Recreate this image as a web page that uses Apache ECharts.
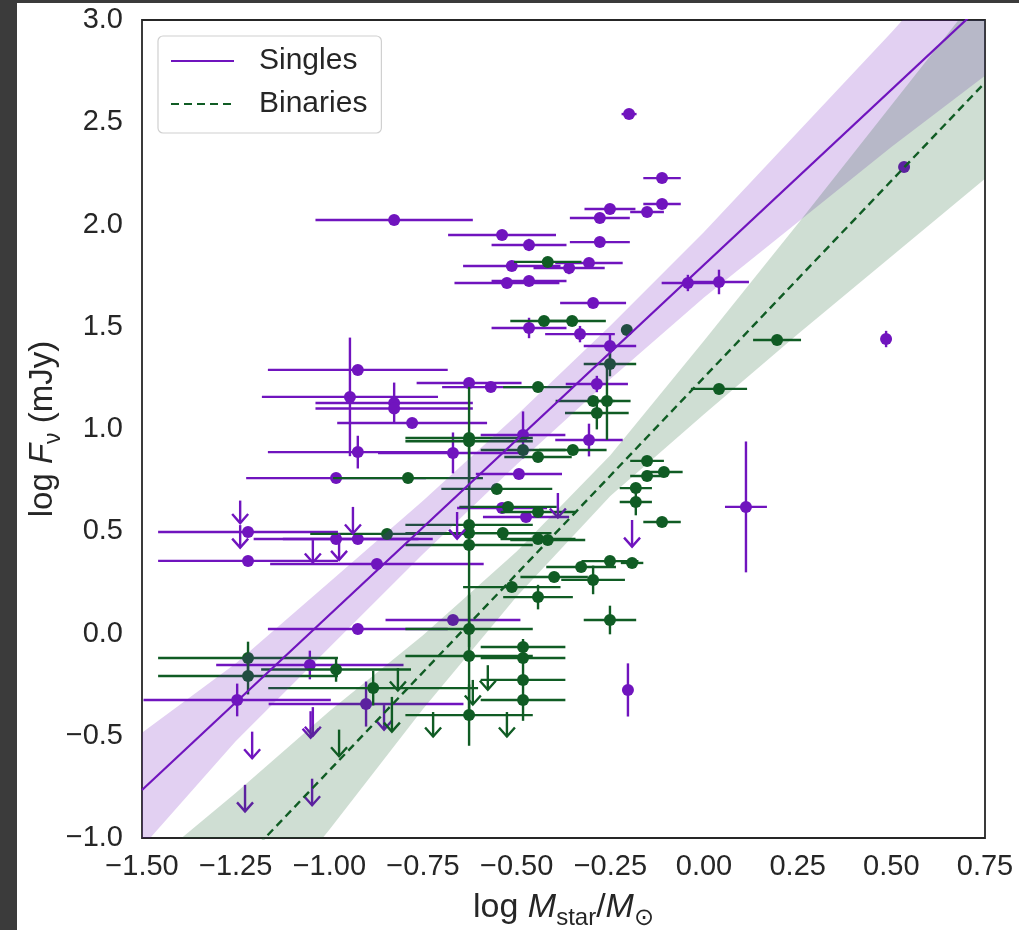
<!DOCTYPE html>
<html><head><meta charset="utf-8">
<script src="https://cdn.jsdelivr.net/npm/echarts@6/dist/echarts.min.js"></script>
<style>
html,body{margin:0;padding:0;background:#3b3b3b;width:1019px;height:930px;overflow:hidden}
#c{position:absolute;left:17px;top:3px;width:1002px;height:927px;background:#fff}
</style></head><body><div id="c"></div>
<script>
// ---- data ----
const xTickMin = -1.5, xTickMax = 0.75, xTickStep = 0.25;
const yTickMin = -1.0, yTickMax = 3.0, yTickStep = 0.5;
const seriesNames = ['Singles', 'Binaries'];

// [x, y, xerr, yerr]
const singlesPts = [
[-0.200,2.540,0.020,0],[-0.112,2.227,0.050,0],[-0.112,2.100,0.050,0],[-0.251,2.076,0.068,0],
[-0.152,2.061,0.045,0],[-0.278,2.032,0.080,0],[-0.827,2.022,0.210,0],[-0.539,1.949,0.144,0],
[-0.467,1.900,0.100,0.03],[-0.278,1.914,0.080,0],[-0.513,1.797,0.130,0],[-0.360,1.787,0.095,0.03],
[-0.307,1.812,0.090,0],[-0.526,1.714,0.140,0],[-0.467,1.724,0.100,0],[-0.296,1.616,0.088,0],
[-0.043,1.714,0.070,0.04],[0.040,1.719,0.080,0.06],[-0.467,1.494,0.100,0.05],[-0.331,1.464,0.093,0.04],
[-0.251,1.406,0.070,0.06],[-0.924,1.289,0.240,0],[-0.945,1.157,0.235,0.29],[-0.827,1.127,0.210,0.10],
[-0.827,1.100,0.210,0],[-0.779,1.029,0.200,0],[-0.627,1.225,0.140,0],[-0.569,1.205,0.130,0],
[-0.286,1.220,0.083,0.04],[-0.483,0.971,0.113,0.115],[-0.670,0.883,0.200,0.10],[-0.924,0.887,0.240,0.08],
[-0.307,0.946,0.090,0.08],[-0.982,0.760,0.240,0],[-0.494,0.780,0.115,0],[-0.539,0.614,0.120,0],
[-0.475,0.570,0.115,0],[-1.217,0.496,0.240,0],[-1.217,0.355,0.240,0],[-0.982,0.462,0.220,0],
[-0.924,0.462,0.200,0],[-0.873,0.340,0.285,0],[0.112,0.619,0.056,0.32],[-0.670,0.066,0.180,0],
[-0.924,0.022,0.240,0],[-1.052,-0.154,0.250,0.07],[-1.246,-0.325,0.250,0.08],[-0.902,-0.345,0.260,0.11],
[-0.203,-0.276,0,0.13],[0.486,1.440,0,0.04],[0.534,2.281,0.010,0]
];
const binariesPts = [
[-0.417,1.817,0.090,0],[-0.427,1.528,0.090,0],[-0.352,1.528,0.090,0],[-0.206,1.484,0,0],
[-0.251,1.318,0.070,0.06],[-0.443,1.205,0.093,0],[-0.296,1.137,0.100,0],[-0.259,1.137,0.020,0.19],
[-0.286,1.078,0.085,0.08],[-0.627,0.956,0.170,0.25],[-0.627,0.940,0.170,0],[-0.483,0.897,0.113,0],
[-0.350,0.897,0.090,0],[-0.443,0.863,0.090,0],[-0.152,0.844,0.045,0],[-0.152,0.770,0.045,0],
[-0.107,0.790,0.050,0],[-0.182,0.711,0.043,0],[-0.182,0.643,0.043,0.065],[-0.112,0.545,0.050,0],
[-0.790,0.760,0.200,0],[-0.553,0.707,0.148,0],[-0.523,0.619,0.130,0],[-0.443,0.594,0.100,0],
[-0.627,0.531,0.170,0],[-0.627,0.491,0.170,0],[-0.627,0.433,0.170,0.50],[-0.846,0.487,0.205,0],
[-0.537,0.491,0.130,0],[-0.443,0.462,0.100,0],[-0.417,0.457,0.100,0],[-0.251,0.354,0.076,0],
[-0.192,0.345,0.030,0],[-0.328,0.325,0.093,0],[-0.296,0.262,0.085,0.07],[-0.400,0.276,0.090,0],
[-0.513,0.227,0.130,0],[-0.443,0.178,0.093,0.06],[-0.251,0.066,0.070,0.07],[-0.627,0.022,0.170,0],
[-0.483,-0.066,0.113,0],[-0.627,-0.110,0.170,0.30],[-0.483,-0.120,0.113,0],[-1.217,-0.120,0.240,0.08],
[-1.217,-0.208,0.240,0.09],[-0.982,-0.176,0.200,0.06],[-0.883,-0.267,0.280,0.085],[-0.483,-0.227,0.113,0.20],
[-0.483,-0.325,0.113,0],[-0.627,-0.399,0.170,0.15],[0.195,1.435,0.064,0.02],[0.040,1.196,0.075,0]
];
// upper limits: [x, y, arrow length]
const singlesUL = [
[-1.238,0.650,0.11],[-1.238,0.530,0.11],[-0.937,0.619,0.13],[-0.974,0.490,0.13],[-1.044,0.457,0.11],
[-0.659,0.594,0.13],[-0.390,0.687,0.12],[-0.192,0.555,0.13],[-1.206,-0.480,0.13],[-1.044,-0.360,0.14],
[-1.050,-0.380,0.13],[-0.854,-0.350,0.12],[-1.225,-0.740,0.13],[-1.046,-0.710,0.13]
];
const binariesUL = [
[-0.974,-0.470,0.13],[-0.833,-0.310,0.17],[-0.817,-0.169,0.11],[-0.577,-0.155,0.12],
[-0.723,-0.384,0.12],[-0.526,-0.384,0.12],[-0.617,-0.227,0.12]
];
// fit lines and confidence bands
const singlesFit = [[-1.5,-0.765],[0.75,3.087]];
const binariesFit = [[-1.5,-1.631],[0.75,2.694]];
const bandX = [-1.5,-1.25,-1.0,-0.75,-0.5,-0.25,0,0.25,0.5,0.75];
const singlesBandHi = [-0.485,-0.147,0.251,0.649,1.067,1.505,1.963,2.451,2.939,3.447];
const singlesBandLo = [-1.045,-0.527,-0.069,0.389,0.827,1.245,1.643,2.011,2.379,2.727];
const binariesBandHi = [-1.161,-0.780,-0.380,-0.009,0.401,0.872,1.432,2.003,2.583,3.164];
const binariesBandLo = [-2.101,-1.520,-0.960,-0.369,0.181,0.672,1.072,1.463,1.843,2.224];

// ---- styling ----
const PURPLE = '#7014BE', GREEN = '#105C24', TXT = '#262626';
const FONT = '"Liberation Sans", Arial, "DejaVu Sans", sans-serif';
const fmt = (v, d) => (v < 0 ? '\u2212' : '') + Math.abs(v).toFixed(d);
const LW = 2.4;

function errRender(color) {
  return function (p, api) {
    const x = api.value(0), y = api.value(1), xe = api.value(2), ye = api.value(3);
    const c = api.coord([x, y]);
    const ls = { stroke: color, lineWidth: LW };
    const ch = [];
    if (xe > 0) { const a = api.coord([x - xe, y]), b = api.coord([x + xe, y]);
      ch.push({ type: 'line', shape: { x1: a[0], y1: a[1], x2: b[0], y2: b[1] }, style: ls }); }
    if (ye > 0) { const a = api.coord([x, y - ye]), b = api.coord([x, y + ye]);
      ch.push({ type: 'line', shape: { x1: a[0], y1: a[1], x2: b[0], y2: b[1] }, style: ls }); }
    ch.push({ type: 'circle', shape: { cx: c[0], cy: c[1], r: 6 }, style: { fill: color } });
    return { type: 'group', children: ch };
  };
}
function ulRender(color) {
  return function (p, api) {
    const x = api.value(0), y = api.value(1), L = api.value(2);
    const a = api.coord([x, y]), b = api.coord([x, y - L]);
    const ls = { stroke: color, lineWidth: LW, fill: null };
    return { type: 'group', children: [
      { type: 'line', shape: { x1: a[0], y1: a[1], x2: b[0], y2: b[1] }, style: ls },
      { type: 'polyline', shape: { points: [[b[0] - 8, b[1] - 9], [b[0], b[1]], [b[0] + 8, b[1] - 9]] }, style: ls }
    ] };
  };
}
function bandRender(hi, lo, color) {
  return function (p, api) {
    const pts = [];
    for (let i = 0; i < bandX.length; i++) pts.push(api.coord([bandX[i], hi[i]]));
    for (let i = bandX.length - 1; i >= 0; i--) pts.push(api.coord([bandX[i], lo[i]]));
    return { type: 'polygon', shape: { points: pts }, style: { fill: color } };
  };
}

const chart = echarts.init(document.getElementById('c'), null, { renderer: 'canvas' });
const xRich = {
  i: { fontStyle: 'italic', fontSize: 34, lineHeight: 44, fontFamily: FONT, color: TXT },
  s: { fontSize: 24, lineHeight: 24, verticalAlign: 'bottom', fontFamily: FONT, color: TXT }
};
const yRich = {
  i: { fontStyle: 'italic', fontSize: 33, lineHeight: 44, fontFamily: FONT, color: TXT },
  s: { fontSize: 23, lineHeight: 23, verticalAlign: 'bottom', fontFamily: FONT, color: TXT }
};
chart.setOption({
  animation: false,
  backgroundColor: '#fff',
  grid: { left: 125, right: 34, top: 17, bottom: 92, outerBoundsMode: 'none', containLabel: false,
          show: true, borderColor: TXT, borderWidth: 1.8, backgroundColor: 'transparent' },
  legend: {
    data: seriesNames, orient: 'vertical', left: 141, top: 33,
    padding: [10, 14, 14, 12], itemGap: 13, itemWidth: 63, itemHeight: 14,
    backgroundColor: '#fff', borderColor: '#d0d0d0', borderWidth: 1.2, borderRadius: 5,
    itemStyle: { opacity: 0, color: 'transparent', borderWidth: 0 },
    textStyle: { fontSize: 30, lineHeight: 30, color: TXT, fontFamily: FONT, padding: [0, 0, 0, 20] }
  },
  xAxis: {
    type: 'value', min: xTickMin, max: xTickMax, interval: xTickStep,
    axisLine: { show: false }, axisTick: { show: false }, splitLine: { show: false },
    axisLabel: { fontSize: 29, color: TXT, fontFamily: FONT, margin: 14, formatter: v => fmt(v, 2) },
    name: 'log {i|M}{s|star}/{i|M}{s|\u2299}', nameLocation: 'middle', nameGap: 48, nameMoveOverlap: false,
    nameTextStyle: { fontSize: 34, lineHeight: 44, color: TXT, fontFamily: FONT, rich: xRich }
  },
  yAxis: {
    type: 'value', min: yTickMin, max: yTickMax, interval: yTickStep,
    axisLine: { show: false }, axisTick: { show: false }, splitLine: { show: false },
    axisLabel: { fontSize: 29, color: TXT, fontFamily: FONT, margin: 19, formatter: v => fmt(v, 1) },
    name: 'log {i|F}{s|\u03bd} (mJy)', nameLocation: 'middle', nameGap: 77, nameRotate: 90, nameMoveOverlap: false,
    nameTextStyle: { fontSize: 33, lineHeight: 44, color: TXT, fontFamily: FONT, rich: yRich }
  },
  series: [
    { name: 'singlesErr', type: 'custom', renderItem: errRender(PURPLE), data: singlesPts, encode: { x: 0, y: 1 }, z: 2, clip: true },
    { name: 'binariesErr', type: 'custom', renderItem: errRender(GREEN), data: binariesPts, encode: { x: 0, y: 1 }, z: 2, clip: true },
    { name: 'singlesUL', type: 'custom', renderItem: ulRender(PURPLE), data: singlesUL, encode: { x: 0, y: 1 }, z: 2, clip: true },
    { name: 'binariesUL', type: 'custom', renderItem: ulRender(GREEN), data: binariesUL, encode: { x: 0, y: 1 }, z: 2, clip: true },
    { name: 'singlesBand', type: 'custom', renderItem: bandRender(singlesBandHi, singlesBandLo, 'rgba(112,20,190,0.2)'), data: [[bandX[0], singlesBandLo[0]]], encode: { x: 0, y: 1 }, z: 3, clip: true, silent: true },
    { name: 'binariesBand', type: 'custom', renderItem: bandRender(binariesBandHi, binariesBandLo, 'rgba(16,92,36,0.2)'), data: [[bandX[0], binariesBandLo[0]]], encode: { x: 0, y: 1 }, z: 3, clip: true, silent: true },
    { name: seriesNames[0], type: 'line', data: singlesFit, symbol: 'none', clip: true, z: 4,
      lineStyle: { color: PURPLE, width: 2.2 }, itemStyle: { color: PURPLE } },
    { name: seriesNames[1], type: 'line', data: binariesFit, symbol: 'none', clip: true, z: 4,
      lineStyle: { color: GREEN, width: 2.4, type: [8, 5] }, itemStyle: { color: GREEN } }
  ]
});
</script></body></html>
